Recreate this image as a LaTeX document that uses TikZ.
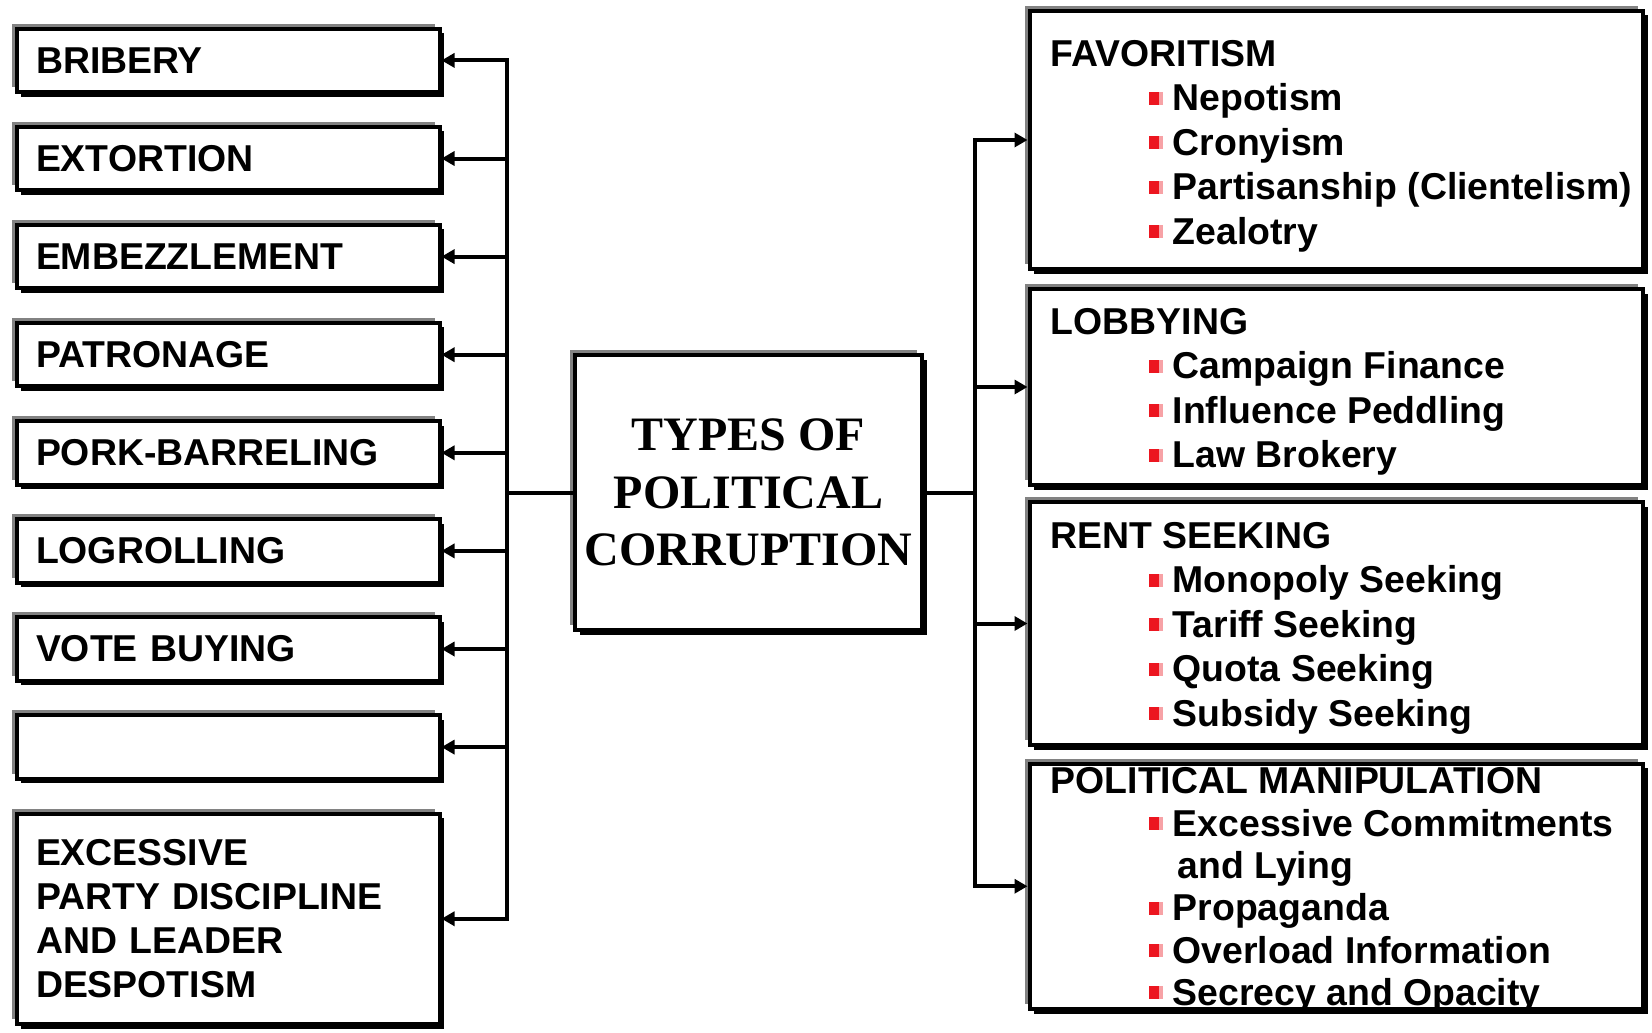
\documentclass[tikz,border=0pt]{standalone}
\usepackage{fontspec}
\setmainfont{Liberation Sans}
\newfontfamily\timesfont{Liberation Serif}
\usetikzlibrary{arrows.meta,shadows}
\definecolor{bulred}{RGB}{236,22,32}
\definecolor{shgray}{RGB}{130,130,130}
\newcommand{\bul}{\raisebox{6pt}{\textcolor{bulred}{\rule{10pt}{13pt}}\textcolor{bulred!40}{\rule{4pt}{13pt}}}\hspace{10pt}}
\newcommand{\ind}{\hspace*{98pt}}
\newcommand{\indd}{\hspace*{127pt}}
\begin{document}
\begin{tikzpicture}[x=1pt,y=-1pt,
  sbox/.style={rectangle, draw=black, fill=white, line width=4pt, inner sep=0pt,
    general shadow={draw=none, fill=shgray, shadow xshift=-5pt, shadow yshift=5pt},
    general shadow={draw=none, fill=black, shadow xshift=4.5pt, shadow yshift=-4.5pt}},
  lbox/.style={sbox, minimum width=422pt, minimum height=63.5pt, text width=384pt,
    inner xsep=19.5pt, align=left, font=\bfseries\fontsize{37.4}{44}\selectfont},
  rbox/.style={sbox, minimum width=613.5pt},
  rtext/.style={anchor=north west, align=left, inner sep=0pt,
    font=\bfseries\fontsize{37.4}{44.5}\selectfont},
  conn/.style={line width=4pt, line cap=rect},
  arr/.style={line width=4pt, -{Triangle[length=13pt,width=14pt]}}
]
\useasboundingbox (0,0) rectangle (1652,1033);

% left boxes
\node[lbox] (b1) at (228,60.4) {BRIBERY};
\node[lbox] (b2) at (228,158.5) {EXTORTION};
\node[lbox] (b3) at (228,256.6) {EMBEZZLEMENT};
\node[lbox] (b4) at (228,354.7) {PATRONAGE};
\node[lbox] (b5) at (228,452.8) {PORK-BARRELING};
\node[lbox] (b6) at (228,550.9) {LOGROLLING};
\node[lbox] (b7) at (228,649) {VOTE BUYING};
\node[lbox] (b8) at (228,747.1) {};
\node[lbox, minimum height=210.5pt] (b9) at (228,918.75) {EXCESSIVE\\PARTY DISCIPLINE\\AND LEADER\\DESPOTISM};

% centre box
\node[sbox, minimum width=347pt, minimum height=275pt, align=center,
  font=\timesfont\bfseries\fontsize{48}{57.5}\selectfont] (ctr) at (748.5,492.5)
  {TYPES OF\\POLITICAL\\CORRUPTION};

% right boxes
\node[rbox, minimum height=258pt] (fav) at (1336.25,140) {};
\node[rbox, minimum height=196pt] (lob) at (1336.25,387) {};
\node[rbox, minimum height=243pt] (rent) at (1336.25,623.5) {};
\node[rbox, minimum height=245.5pt] (pol) at (1336.25,886.25) {};

\node[rtext] (favt) at (1050.5,40) {FAVORITISM\\
  \ind\bul Nepotism\\
  \ind\bul Cronyism\\
  \ind\bul Partisanship (Clientelism)\\
  \ind\bul Zealotry};
\node[rtext] (lobt) at (1050.5,308) {LOBBYING\\
  \ind\bul Campaign Finance\\
  \ind\bul Influence Peddling\\
  \ind\bul Law Brokery};
\node[rtext] (rentt) at (1050.5,522) {RENT SEEKING\\
  \ind\bul Monopoly Seeking\\
  \ind\bul Tariff Seeking\\
  \ind\bul Quota Seeking\\
  \ind\bul Subsidy Seeking};
\node[rtext, font=\bfseries\fontsize{37.4}{42.3}\selectfont] (polt) at (1050.5,767.5) {POLITICAL MANIPULATION\\
  \ind\bul Excessive Commitments\\
  \indd and Lying\\
  \ind\bul Propaganda\\
  \ind\bul Overload Information\\
  \ind\bul Secrecy and Opacity};

% connectors
\coordinate (lbus) at (507,492.5);
\coordinate (rbus) at (975,492.5);
\draw[conn] (ctr.west) -- (lbus);
\draw[conn] (ctr.east) -- (rbus);
\draw[conn] (lbus |- b1.east) -- (lbus |- b9.east);
\draw[conn] (rbus |- fav.west) -- (rbus |- pol.west);
\foreach \n in {b1,b2,b3,b4,b5,b6,b7,b8,b9}
  \draw[arr] (lbus |- \n.east) -- (\n.east);
\foreach \n in {fav,lob,rent,pol}
  \draw[arr] (rbus |- \n.west) -- (\n.west);
\end{tikzpicture}
\end{document}
